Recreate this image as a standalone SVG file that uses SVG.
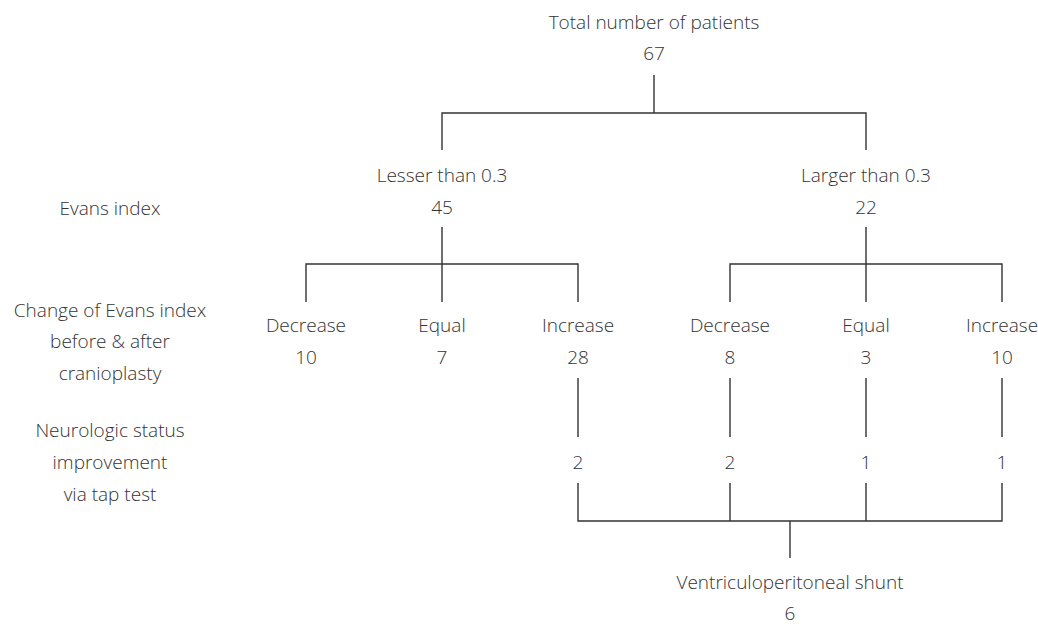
<svg xmlns="http://www.w3.org/2000/svg" width="1038" height="624" viewBox="0 0 1038 624">
<style>
text{font-family:"Open Sans","Noto Sans","Liberation Sans",sans-serif;font-weight:300;font-size:19px;fill:#333;text-anchor:middle}
.c path{fill:none;stroke:#333;stroke-width:1.4}
</style>
<rect width="1038" height="624" fill="#fff"/>
<g id="row-labels">
<text x="110" y="215">Evans index</text>
<text x="110" y="317">Change of Evans index</text>
<text x="110" y="348">before &amp; after</text>
<text x="110" y="380">cranioplasty</text>
<text x="110" y="437">Neurologic status</text>
<text x="110" y="469">improvement</text>
<text x="110" y="501">via tap test</text>
</g>
<g id="root"><text x="654" y="29">Total number of patients</text><text x="654" y="60">67</text></g>
<g id="lesser"><text x="442" y="182">Lesser than 0.3</text><text x="442" y="214">45</text></g>
<g id="larger"><text x="866" y="182">Larger than 0.3</text><text x="866" y="214">22</text></g>
<g id="l-dec"><text x="306" y="332">Decrease</text><text x="306" y="364">10</text></g>
<g id="l-eq"><text x="442" y="332">Equal</text><text x="442" y="364">7</text></g>
<g id="l-inc"><text x="578" y="332">Increase</text><text x="578" y="364">28</text></g>
<g id="r-dec"><text x="730" y="332">Decrease</text><text x="730" y="364">8</text></g>
<g id="r-eq"><text x="866" y="332">Equal</text><text x="866" y="364">3</text></g>
<g id="r-inc"><text x="1002" y="332">Increase</text><text x="1002" y="364">10</text></g>
<g id="n1"><text x="578" y="469">2</text></g>
<g id="n2"><text x="730" y="469">2</text></g>
<g id="n3"><text x="866" y="469">1</text></g>
<g id="n4"><text x="1002" y="469">1</text></g>
<g id="vp"><text x="790" y="589">Ventriculoperitoneal shunt</text><text x="790" y="620">6</text></g>
<g id="connectors" class="c">
<path d="M654 75V113M442 150V113H866V150"/>
<path d="M442 227V302M306 302V264H578V302"/>
<path d="M866 227V302M730 302V264H1002V302"/>
<path d="M578 378V437M730 378V437M866 378V437M1002 378V437"/>
<path d="M578 483V521H1002V483M730 483V521M866 483V521M790 521V558"/>
</g>
</svg>
